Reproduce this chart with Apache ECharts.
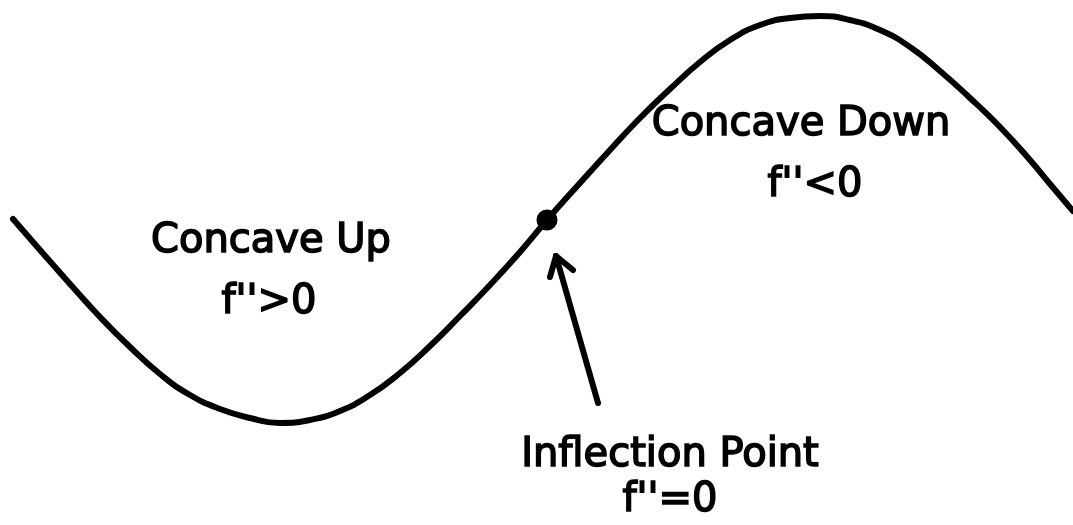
<!DOCTYPE html>
<html>
<head>
<meta charset="utf-8">
<script src="https://cdn.jsdelivr.net/npm/echarts@6/dist/echarts.min.js"></script>
<style>
html,body{margin:0;padding:0;background:#fff;}
#chart{width:1073px;height:525px;}
</style>
</head>
<body>
<div id="chart"></div>
<script>
// Curve (x to the right, y upward; 0..1073 by 0..525)
var curveX = [13, 40, 70, 100, 130, 160, 190, 220, 250, 280, 310, 340, 370, 400, 430, 460, 490, 520, 547, 580, 610, 640, 670, 700, 730, 760, 790, 820, 850, 880, 910, 940, 970, 1000, 1030, 1050, 1073];
var curveY = [306, 275, 241, 208, 178, 151, 130, 116, 107, 102, 105, 114, 130, 152, 179, 209, 240, 273, 305, 342, 375, 407, 436, 463, 485, 500, 507, 509, 505, 495, 478, 454, 427, 398, 365, 341, 314];
// Inflection point
var inflectionX = [547];
var inflectionY = [305];
// Arrow: shaft from tail to tip, and the two wings of the head
var arrowShaft = [[598, 122], [556, 269]];
var arrowHead = [[550, 248], [556, 269], [573, 255]];
// Labels
var labels = ["Concave Up", "f''>0", "Concave Down", "f''<0", "Inflection Point", "f''=0"];

var curveData = curveX.map(function (x, i) { return [x, curveY[i]]; });
var pointData = inflectionX.map(function (x, i) { return [x, inflectionY[i]]; });

var chart = echarts.init(document.getElementById('chart'), null, {renderer: 'canvas'});
var font = '"DejaVu Sans", "Noto Sans", sans-serif';
function txt(text, x, y) {
  return {
    type: 'text', x: x, y: y, silent: true,
    style: {
      text: text, fill: '#000', font: 'normal 40px ' + font,
      align: 'center', verticalAlign: 'middle',
      stroke: '#000', lineWidth: 1.6
    }
  };
}
chart.setOption({
  animation: false,
  backgroundColor: '#fff',
  grid: {left: 0, right: 0, top: 0, bottom: 0},
  xAxis: {type: 'value', min: 0, max: 1073, show: false},
  yAxis: {type: 'value', min: 0, max: 525, show: false},
  series: [
    {
      type: 'line', data: curveData, smooth: 0.5, showSymbol: false,
      lineStyle: {color: '#000', width: 6, cap: 'round', join: 'round'}
    },
    {
      type: 'lines', coordinateSystem: 'cartesian2d', polyline: true,
      lineStyle: {color: '#000', width: 6, cap: 'round', join: 'round', opacity: 1},
      data: [{coords: arrowShaft}, {coords: arrowHead}]
    },
    {
      type: 'scatter', data: pointData, symbol: 'circle', symbolSize: 21,
      itemStyle: {color: '#000', opacity: 1}, z: 5
    }
  ],
  graphic: [
    txt(labels[0], 271, 242),
    txt(labels[1], 269, 303),
    txt(labels[2], 801, 125),
    txt(labels[3], 815, 186),
    txt(labels[4], 670, 456),
    txt(labels[5], 670, 501)
  ]
});
</script>
</body>
</html>
